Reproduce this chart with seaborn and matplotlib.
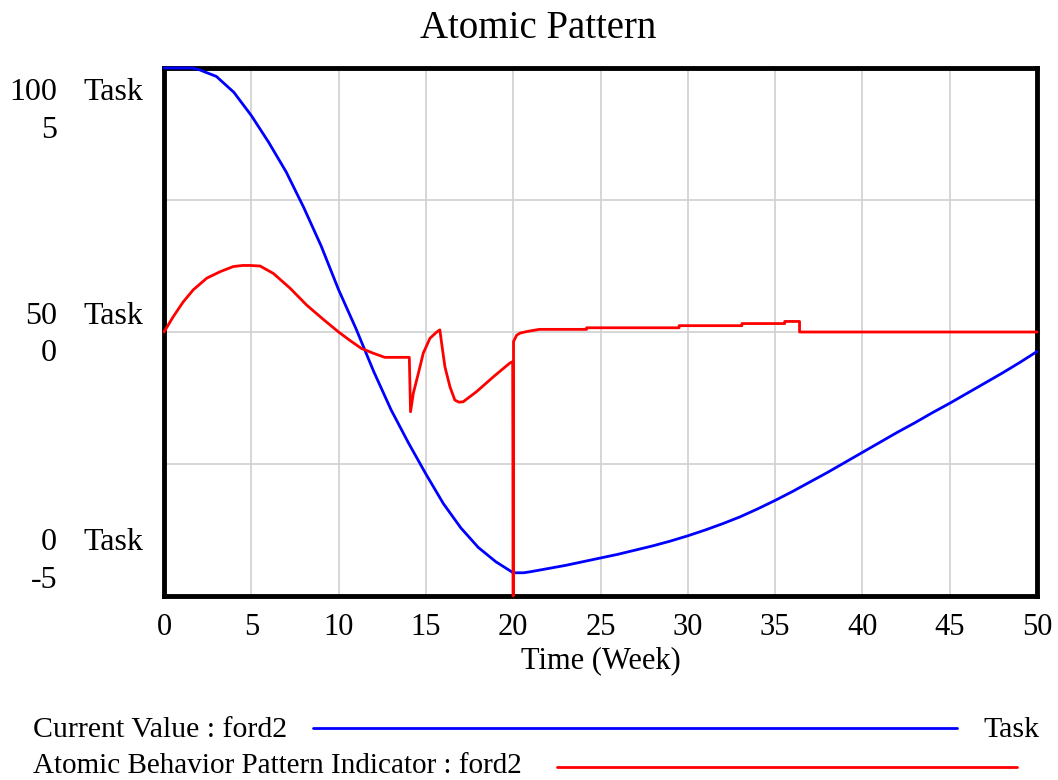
import numpy as np
import pandas as pd
import seaborn as sns
import matplotlib as mpl
from matplotlib import pyplot as plt
from matplotlib.lines import Line2D

# Current Value (Task) - left scale 0..100
blue_t = [0, 1, 1.6, 2, 3, 4, 5, 6, 7, 8, 9, 10, 11, 12, 13, 14, 15, 16, 17, 18, 19, 20,
          20.6, 21, 22, 23, 24, 25, 26, 27, 28, 29, 30, 31, 32, 33, 34, 35, 36, 37, 38, 39,
          40, 41, 42, 43, 44, 45, 46, 47, 48, 49, 50]
blue_v = [100, 100, 100, 99.7, 98.4, 95.4, 91.0, 85.9, 80.3, 73.6, 66.3, 58.0, 50.6, 42.6,
          35.3, 29.0, 23.1, 17.5, 12.9, 9.2, 6.5, 4.4, 4.4, 4.6, 5.2, 5.8, 6.5, 7.2, 7.9, 8.7,
          9.5, 10.4, 11.4, 12.5, 13.7, 15.0, 16.5, 18.1, 19.8, 21.6, 23.4, 25.3, 27.2, 29.1,
          31.0, 32.8, 34.7, 36.5, 38.4, 40.3, 42.2, 44.2, 46.3]

# Atomic Behavior Pattern Indicator - second scale -5..5
red_t = [0, 0.53, 1.1, 1.68, 2.45, 3.2, 3.97, 4.5, 4.93, 5.5, 6.26, 7.22, 8.17, 9.12, 10.0,
         10.65, 11.3, 11.97, 12.64, 14.05, 14.12, 14.28, 14.57, 14.85, 15.23, 15.62, 15.8,
         15.9, 16.09, 16.38, 16.66, 16.9, 17.14, 17.9, 18.86, 19.8, 19.97, 20.0, 20.02, 20.2,
         20.4, 20.8, 21.15, 21.5, 24.2, 24.2, 29.5, 29.5, 33.1, 33.1, 35.55, 35.55, 36.4,
         36.4, 50]
red_v = [0, 0.29, 0.57, 0.80, 1.02, 1.14, 1.24, 1.26, 1.26, 1.25, 1.11, 0.83, 0.51, 0.24,
         0.0, -0.16, -0.31, -0.40, -0.48, -0.48, -1.51, -1.16, -0.78, -0.40, -0.12, 0.0, 0.04,
         -0.21, -0.66, -1.04, -1.29, -1.33, -1.32, -1.13, -0.85, -0.59, -0.56, -5.0, -0.18,
         -0.06, -0.02, 0.01, 0.03, 0.05, 0.05, 0.08, 0.08, 0.12, 0.12, 0.16, 0.16, 0.20, 0.20,
         0.0, 0.0]

x_ticks = list(range(0, 51, 5))

sns.set_style("white")
plt.rcParams['font.family'] = ['Liberation Serif', 'DejaVu Serif']
plt.rcParams['text.color'] = 'black'
plt.rcParams['axes.labelcolor'] = 'black'
plt.rcParams['xtick.color'] = 'black'
plt.rcParams['ytick.color'] = 'black'

fig = plt.figure(figsize=(10.58, 7.80), dpi=100)
W, H = 1058, 780
ax = fig.add_axes([164 / W, 1 - 596 / H, (1037 - 164) / W, (596 - 68) / H])
ax2 = ax.twinx()

blue = pd.DataFrame({'t': blue_t, 'v': blue_v})
red = pd.DataFrame({'t': red_t, 'v': red_v})
sns.lineplot(data=blue, x='t', y='v', ax=ax, color='#0000ff', lw=2, estimator=None, sort=False,
             zorder=3, clip_on=False)
sns.lineplot(data=red, x='t', y='v', ax=ax2, color='#ff0000', lw=2, estimator=None, sort=False,
             zorder=3, clip_on=False)

ax.set_xlim(0, 50)
ax.set_ylim(0, 100)
ax2.set_ylim(-5, 5)
ax.set_xticks(x_ticks)
ax.set_xticklabels([str(t) for t in x_ticks], fontsize=22)
ax.set_yticks([0, 25, 50, 75, 100])
ax.set_yticklabels([])
ax2.set_yticks([])
ax.tick_params(axis='both', length=0, pad=12)
ax.grid(True, color='#d0d0d0', lw=1.2)
ax.set_xlabel('Time (Week)', fontsize=22, labelpad=3)
ax.set_ylabel('')
ax2.set_ylabel('')
for s in ax.spines.values():
    s.set_linewidth(3.5)
    s.set_color('black')
for s in ax2.spines.values():
    s.set_visible(False)

# left scale labels
for yb, num_b, num_r in [(89, '100', '5'), (313, '50', '0'), (540, '0', '-5')]:
    fig.text(57 / W, 1 - (yb + 3) / H, num_b, ha='right', va='center', fontsize=23)
    fig.text(83 / W, 1 - (yb + 3) / H, 'Task', ha='left', va='center', fontsize=23)
    fig.text(57 / W, 1 - (yb + 41) / H, num_r, ha='right', va='center', fontsize=23)

fig.text(538 / W, 1 - 29 / H, 'Atomic Pattern', ha='center', va='center', fontsize=28)

# legend
fig.text(33 / W, 1 - 737 / H, 'Current Value : ford2', ha='left', va='baseline', fontsize=21.5)
fig.add_artist(Line2D([313 / W, 957 / W], [1 - 728 / H, 1 - 728 / H], color='#0000ff', lw=2))
fig.text(983 / W, 1 - 737 / H, 'Task', ha='left', va='baseline', fontsize=21.5)
fig.text(33 / W, 1 - 773 / H, 'Atomic Behavior Pattern Indicator : ford2', ha='left',
         va='baseline', fontsize=21)
fig.add_artist(Line2D([557 / W, 1017 / W], [1 - 767 / H, 1 - 767 / H], color='#ff0000', lw=2))

fig.savefig('out.png', dpi=100)
